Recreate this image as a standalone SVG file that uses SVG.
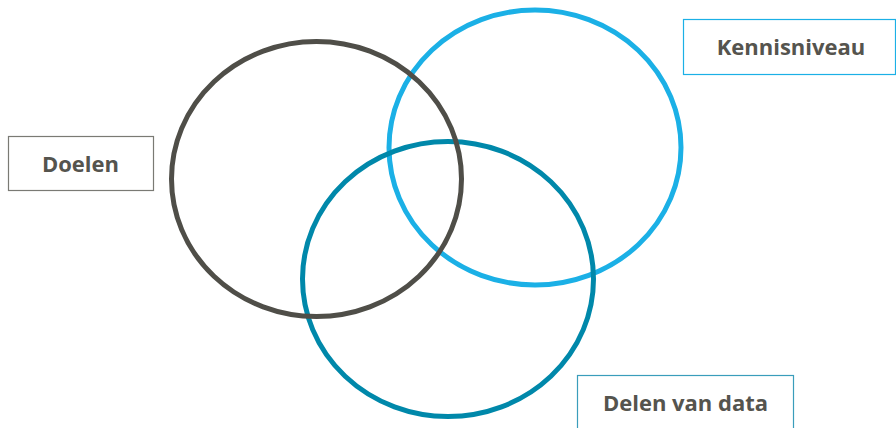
<svg xmlns="http://www.w3.org/2000/svg" width="896" height="428" viewBox="0 0 896 428">
  <style>
    .ring { fill: none; stroke-width: 5; }
    .box { fill: #ffffff; stroke-width: 1.2; }
    .label { font-family: "Open Sans", "Noto Sans", sans-serif; font-weight: 700; font-size: 22px; fill: #55544e; text-anchor: middle; }
  </style>
  <rect width="896" height="428" fill="#ffffff"/>
  <g id="circles">
    <ellipse id="ring-kennis" class="ring" cx="535" cy="147.5" rx="146" ry="137.5" stroke="#1bb0e6"/>
    <ellipse id="ring-delen" class="ring" cx="448" cy="279" rx="145.5" ry="137.5" stroke="#0088aa"/>
    <ellipse id="ring-doelen" class="ring" cx="316.5" cy="179" rx="145" ry="137.5" stroke="#4f4e48"/>
  </g>
  <g id="node-doelen">
    <rect class="box" x="8.5" y="136.5" width="145" height="54" stroke="#7a7a74"/>
    <text class="label" x="80.5" y="171.5">Doelen</text>
  </g>
  <g id="node-kennisniveau">
    <rect class="box" x="683.5" y="19.5" width="212" height="55" stroke="#1bb0e6"/>
    <text class="label" x="791" y="54.5">Kennisniveau</text>
  </g>
  <g id="node-delen">
    <rect class="box" x="577.5" y="375.5" width="216" height="60" stroke="#3a9dbb"/>
    <text class="label" x="685.5" y="411">Delen van data</text>
  </g>
</svg>
